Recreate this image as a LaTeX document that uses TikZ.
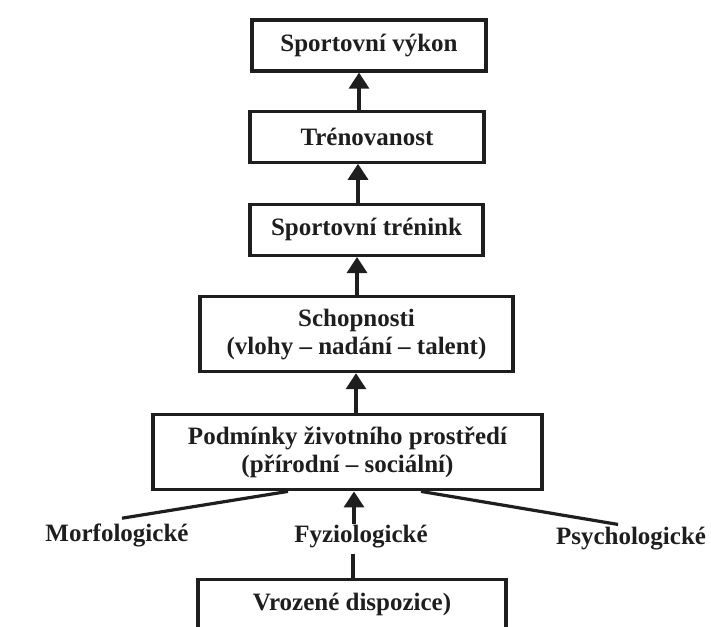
\documentclass[tikz,border=0pt]{standalone}
\usepackage{fontspec}
\setmainfont{Liberation Serif}
\usetikzlibrary{arrows.meta, positioning}
\definecolor{ink}{RGB}{30,30,30}

\begin{document}
\begin{tikzpicture}[x=1pt, y=-1pt, >={Triangle[width=20pt,length=16pt]},
  box/.style={draw=ink, line width=3.2pt, text=ink, font=\bfseries\fontsize{25}{28}\selectfont, align=center, minimum height=51pt, inner sep=2pt},
  lbl/.style={text=ink, font=\bfseries\fontsize{25}{28}\selectfont, inner sep=0pt, anchor=base},
  arr/.style={->, draw=ink, line width=3.2pt},
  ln/.style={draw=ink, line width=3.2pt}]
\clip (0,0) rectangle (711,626);
\node[box, minimum width=234pt] (vykon) at (369,45.5) {Sportovní výkon};
\node[box, minimum width=234pt, below=37pt of vykon, xshift=-2pt] (trenovanost) {Trénovanost};
\node[box, minimum width=233pt, below=39pt of trenovanost, xshift=-0.5pt] (trenink) {Sportovní trénink};
\node[box, minimum width=313pt, minimum height=75pt, below=38pt of trenink, xshift=-10pt] (schopnosti) {Schopnosti\\(vlohy -- nadání -- talent)};
\node[box, minimum width=389pt, minimum height=75pt, below=40pt of schopnosti, xshift=-9pt] (podminky) {Podmínky životního prostředí\\(přírodní -- sociální)};
% vlivy
\node[lbl] (morf) at (117,541) {Morfologické};
\node[lbl] (fyzio) at (361,542) {Fyziologické};
\node[lbl] (psych) at (631,544) {Psychologické};
\node[box, minimum width=308pt, anchor=north, inner ysep=0pt, text height=31pt, text depth=40pt] (vrozene) at (352,578) {Vrozené dispozice)};
% sipky
\draw[arr] ([xshift=-8pt]trenovanost.north) -- ([xshift=-10pt]vykon.south);
\draw[arr] ([xshift=-8.5pt]trenink.north) -- ([xshift=-9pt]trenovanost.south);
\draw[arr] ([xshift=0.5pt]schopnosti.north) -- ([xshift=-9.5pt]trenink.south);
\draw[arr] ([xshift=8.5pt]podminky.north) -- ([xshift=-0.5pt]schopnosti.south);
\draw[arr] ([xshift=-7pt]fyzio.north) -- ([xshift=6.5pt]podminky.south);
\draw[ln] ([xshift=-8pt,yshift=-6pt]fyzio.south) -- ([xshift=1pt]vrozene.north);
\draw[ln] ([xshift=-59.5pt]podminky.south) -- ([xshift=5pt,yshift=5pt]morf.north);
\draw[ln] ([xshift=73.5pt]podminky.south) -- ([xshift=-13pt,yshift=2pt]psych.north);
\end{tikzpicture}
\end{document}
